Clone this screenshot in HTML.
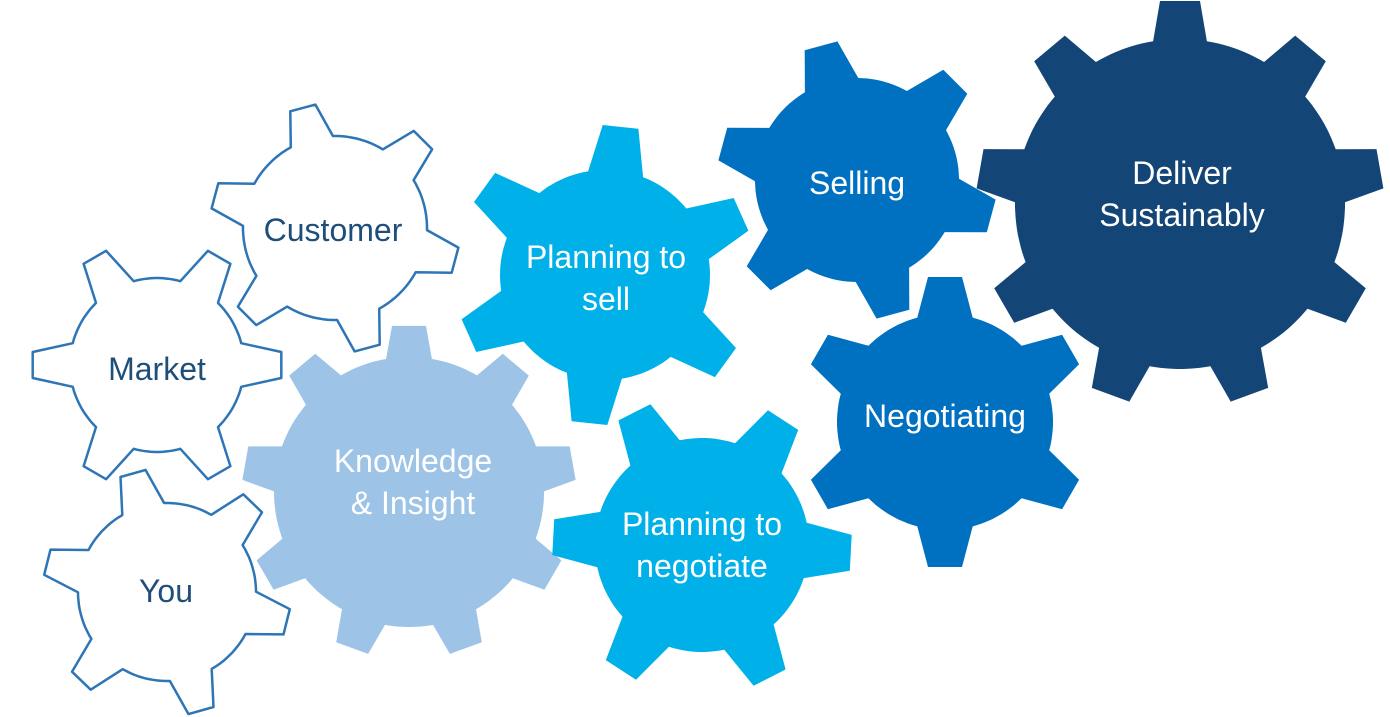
<!DOCTYPE html>
<html><head><meta charset="utf-8"><style>
html,body{margin:0;padding:0;background:#fff;width:1390px;height:717px;overflow:hidden}
svg{display:block}
text{font-family:"Liberation Sans",sans-serif;font-size:32px;text-anchor:middle}
</style></head><body>
<svg id="s" width="1390" height="717" viewBox="0 0 1390 717" xmlns="http://www.w3.org/2000/svg">
<g id="g"></g>
<text x="333" y="241" fill="#1f4e79">Customer</text>
<text x="157" y="380" fill="#1f4e79">Market</text>
<text x="166" y="602" fill="#1f4e79">You</text>
<text x="413" y="472" fill="#fff">Knowledge</text>
<text x="413" y="514" fill="#fff">&amp; Insight</text>
<text x="606" y="268" fill="#fff">Planning to</text>
<text x="606" y="310" fill="#fff">sell</text>
<text x="702" y="535" fill="#fff">Planning to</text>
<text x="702" y="577" fill="#fff">negotiate</text>
<text x="857" y="194" fill="#fff">Selling</text>
<text x="945" y="427" fill="#fff">Negotiating</text>
<text x="1182" y="184" fill="#fff">Deliver</text>
<text x="1182" y="226" fill="#fff">Sustainably</text>
</svg>
<script>
function gear(cx,cy,R,r,n,rot,tipW,baseW){
  var p=[],step=2*Math.PI/n,ro=rot*Math.PI/180;
  for(var i=0;i<n;i++){
    var a=ro+i*step;
    var bh=baseW/2/r, th=tipW/2/R;
    var pts=[[r,a-bh],[R,a-th],[R,a+th],[r,a+bh]];
    pts.forEach(function(q,j){p.push((i==0&&j==0?'M':'L')+(cx+q[0]*Math.cos(q[1])).toFixed(1)+','+(cy+q[0]*Math.sin(q[1])).toFixed(1));});
    var nb=a+step-bh, sa=a+bh;
    for(var k=1;k<=10;k++){var t=sa+(nb-sa)*k/11;p.push('L'+(cx+r*Math.cos(t)).toFixed(1)+','+(cy+r*Math.sin(t)).toFixed(1));}
  }
  return p.join(' ')+'Z';
}
var G=[
 [335,228,125,92,6,-105,26,44,'#fff','#2e75b6'],
 [157,365,125,87,6,0,26,44,'#fff','#2e75b6'],
 [167,592,124,89,6,-106,26,44,'#fff','#2e75b6'],
 [409,492,167,135,9,-90,34,46,'#9dc3e6','none'],
 [605,275,150,105,6,-84,36,56,'#00b0e8','none'],
 [702,545,150,107,6,-117,36,56,'#00b0e8','none'],
 [857,180,140,102,6,-105,34,56,'#0070c0','none'],
 [945,422,146,108,6,-90,34,56,'#0070c0','none'],
 [1180,204,204,165,9,-90,40,54,'#134577','none']
];
var h='';
G.forEach(function(g){h+='<path d="'+gear(g[0],g[1],g[2],g[3],g[4],g[5],g[6],g[7])+'" fill="'+g[8]+'" stroke="'+g[9]+'" stroke-width="2.5" stroke-linejoin="round"/>';});
document.getElementById('g').innerHTML=h;
</script>
</body></html>
